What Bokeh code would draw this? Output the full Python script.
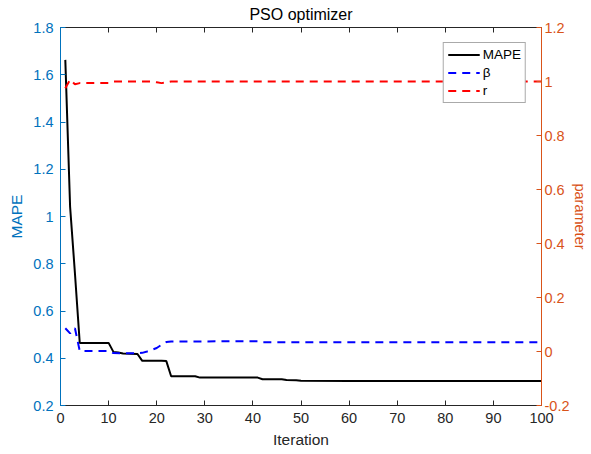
from bokeh.plotting import figure
from bokeh.models import (Range1d, LinearAxis, FixedTicker, Legend, LegendItem,
                          CustomJSTickFormatter)
from bokeh.embed import file_html
from bokeh.resources import INLINE

# ---- data ----
mape_iter = [1, 2, 3, 4, 10, 11, 12, 13, 16, 17, 21, 22, 23, 28, 29, 41, 42, 46, 47, 49, 50, 60, 100]
mape_val = [1.663, 1.04, 0.76, 0.465, 0.465, 0.427, 0.424, 0.42, 0.418, 0.389, 0.389, 0.388,
            0.324, 0.324, 0.318, 0.318, 0.311, 0.311, 0.308, 0.307, 0.305, 0.304, 0.304]
beta_iter = [1, 2, 3, 4, 10, 11, 16, 17, 18, 19, 20, 21, 22, 23, 41, 42, 100]
beta_val = [0.086, 0.067, 0.086, 0.002, 0.002, -0.006, -0.007, -0.005, 0.0, 0.006, 0.013,
            0.025, 0.035, 0.037, 0.038, 0.034, 0.034]
r_iter = [1, 2, 3, 4, 10, 11, 19, 20, 21, 22, 23, 100]
r_val = [0.975, 1.007, 0.99, 0.994, 0.994, 1.0, 1.0, 0.997, 0.994, 0.996, 1.0, 1.0]

x_ticks = [0, 10, 20, 30, 40, 50, 60, 70, 80, 90, 100]
left_ticks = [0.2, 0.4, 0.6, 0.8, 1.0, 1.2, 1.4, 1.6, 1.8]
left_tick_labels = ["0.2", "0.4", "0.6", "0.8", "1", "1.2", "1.4", "1.6", "1.8"]
right_ticks = [-0.2, 0.0, 0.2, 0.4, 0.6, 0.8, 1.0, 1.2]
right_tick_labels = ["-0.2", "0", "0.2", "0.4", "0.6", "0.8", "1", "1.2"]

FONT = "Liberation Sans"
BLUE_AX = "#0072BD"
ORANGE_AX = "#D95319"
GRAY_AX = "#262626"

p = figure(width=591, height=454, output_backend="svg", toolbar_location=None,
           x_range=Range1d(0, 100), y_range=Range1d(0.2, 1.8),
           min_border_left=60, min_border_right=50, min_border_top=27, min_border_bottom=49)
p.extra_y_ranges = {"right": Range1d(-0.2, 1.2)}
p.xgrid.visible = False
p.ygrid.visible = False
p.outline_line_color = None
p.background_fill_color = "white"
p.border_fill_color = "white"

def style_axis(ax, color):
    ax.axis_line_color = color
    ax.axis_line_width = 1
    ax.major_tick_line_color = color
    ax.major_tick_in = 5
    ax.major_tick_out = 0
    ax.minor_tick_line_color = None
    ax.major_label_text_color = color
    ax.major_label_text_font = FONT
    ax.major_label_text_font_size = "14.5px"
    ax.axis_label_text_font = FONT
    ax.axis_label_text_font_style = "normal"

# bottom axis
xa = p.xaxis[0]
xa.ticker = FixedTicker(ticks=x_ticks)
style_axis(xa, GRAY_AX)
xa.major_label_standoff = 7
xa.axis_label = "Iteration"
xa.axis_label_text_font_size = "15.5px"
xa.axis_label_text_color = GRAY_AX
xa.axis_label_standoff = 5

# left axis
ya = p.yaxis[0]
ya.ticker = FixedTicker(ticks=left_ticks)
ya.major_label_overrides = dict(zip(left_ticks, left_tick_labels))
style_axis(ya, BLUE_AX)
ya.major_label_standoff = 7
ya.axis_label = "MAPE"
ya.axis_label_text_font_size = "15.5px"
ya.axis_label_text_color = BLUE_AX
ya.axis_label_standoff = 5

# right axis (its title sits at the window's right edge, as in the reference)
ra = LinearAxis(y_range_name="right", ticker=FixedTicker(ticks=right_ticks))
ra.major_label_overrides = dict(zip(right_ticks, right_tick_labels))
style_axis(ra, ORANGE_AX)
ra.major_label_standoff = 3
ra.axis_label = "parameter"
ra.axis_label_text_font_size = "14.5px"
ra.axis_label_text_color = ORANGE_AX
ra.axis_label_standoff = 0
p.add_layout(ra, "right")

# top axis (box edge with inward ticks, carries the title)
ta = LinearAxis(ticker=FixedTicker(ticks=x_ticks),
                formatter=CustomJSTickFormatter(code="return ''"))
style_axis(ta, GRAY_AX)
ta.major_label_standoff = 0
ta.axis_label = "PSO optimizer"
ta.axis_label_text_font_size = "16px"
ta.axis_label_text_color = "black"
ta.axis_label_standoff = 5
p.add_layout(ta, "above")

# lines
l_mape = p.line(mape_iter, mape_val, line_color="black", line_width=2)
l_beta = p.line(beta_iter, beta_val, line_color="#0000FF", line_width=2, line_dash="8 6",
                y_range_name="right")
l_r = p.line(r_iter, r_val, line_color="#FF0000", line_width=2, line_dash="8 6",
             y_range_name="right")

legend = Legend(items=[LegendItem(label="MAPE", renderers=[l_mape]),
                       LegendItem(label="β", renderers=[l_beta]),
                       LegendItem(label="r", renderers=[l_r])],
                location="top_right")
legend.margin = 15
legend.padding = 4
legend.spacing = 3
legend.glyph_width = 32
legend.glyph_height = 15
legend.label_height = 15
legend.label_standoff = 3
legend.label_text_font = FONT
legend.label_text_font_size = "13.5px"
legend.label_text_color = "black"
legend.border_line_color = "#555555"
legend.border_line_width = 1
legend.background_fill_color = "white"
legend.background_fill_alpha = 1.0
p.add_layout(legend, "center")

open("out.html", "w").write(file_html(p, INLINE))
